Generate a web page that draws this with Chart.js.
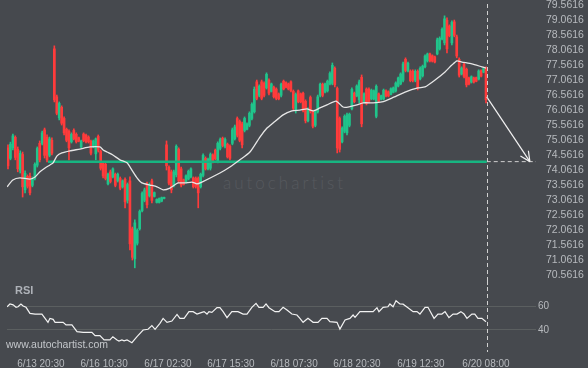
<!doctype html>
<html lang="en">
<head>
<meta charset="utf-8">
<title>Price chart</title>
<script src="https://cdn.jsdelivr.net/npm/chart.js"></script>
<style>
  html, body { margin: 0; padding: 0; background: #46494e; }
  #wrap { position: relative; width: 588px; height: 368px; overflow: hidden; }
  canvas { position: absolute; left: 0; }
  #main { top: 0; }
  #rsi { top: 280px; }
  .txt { position: absolute; font-family: "Liberation Sans", Arial, sans-serif; white-space: nowrap; }
  #mark { left: 223px; top: 172px; font-family: Lato, sans-serif; font-weight: 300; font-size: 17px; letter-spacing: 3px; color: #56595e; }
  #rsiTitle { left: 15px; top: 284px; font-size: 11px; font-weight: bold; color: #aeb2b8; }
  #site { left: 6px; top: 338px; font-size: 10.5px; color: #c3c6ca; }
</style>
</head>
<body>
<div id="wrap">
  <div class="txt" id="mark">autochartist</div>
  <canvas id="main" width="588" height="285"></canvas>
  <canvas id="rsi" width="588" height="88"></canvas>
  <div class="txt" id="rsiTitle">RSI</div>
  <div class="txt" id="site">www.autochartist.com</div>
</div>
<script>
// candles, one per bar, oldest first
const open = [
  74.80, 74.45, 74.80, 75.15, 74.75, 74.05, 74.58, 73.40, 73.85, 73.85,
  73.55, 73.78, 74.22, 74.95, 74.95, 75.40, 75.15, 74.55, 75.05, 78.10,
  76.50, 75.80, 76.15, 75.78, 75.42, 75.35, 75.00, 75.38, 75.25, 75.14,
  74.83, 75.26, 75.22, 75.16, 75.02, 74.83, 74.60, 75.18, 74.68, 74.28,
  74.25, 73.60, 74.00, 73.83, 73.92, 73.70, 73.78, 73.50, 73.75, 73.05,
  73.70, 72.10, 71.10, 71.62, 72.10, 72.70, 73.05, 73.60, 73.20, 73.70,
  73.18, 72.98, 72.98, 73.02, 73.11, 74.90, 74.15, 74.00, 73.55, 73.90,
  74.75, 74.10, 73.74, 73.65, 73.76, 73.83, 73.80, 73.78, 73.78, 73.50,
  73.88, 74.45, 74.10, 74.12, 74.56, 74.72, 74.36, 74.78, 75.12, 74.85,
  74.92, 74.85, 74.95, 75.10, 75.78, 75.68, 75.60, 75.38, 75.42, 75.55,
  75.78, 76.00, 77.00, 76.55, 77.00, 76.95, 76.80, 77.05, 76.68, 76.82,
  76.76, 76.60, 76.55, 77.02, 76.97, 76.93, 77.00, 76.68, 76.05, 76.70,
  76.60, 76.62, 76.35, 75.70, 76.48, 76.02, 75.55, 76.00, 76.55, 76.92,
  76.66, 76.70, 76.93, 76.95, 77.45, 76.78, 75.78, 75.00, 75.35, 75.30,
  75.55, 76.10, 76.62, 76.53, 76.40, 77.15, 76.33, 76.76, 76.75, 76.43,
  76.43, 75.85, 76.60, 76.42, 76.43, 76.70, 76.67, 76.58, 76.65, 76.70,
  76.86, 76.93, 77.05, 77.75, 77.36, 77.36, 77.35, 77.05, 77.35, 77.10,
  77.20, 77.50, 77.70, 77.93, 77.87, 77.83, 77.93, 78.10, 78.43, 78.30,
  79.05, 78.86, 78.30, 79.00, 78.50, 77.75, 77.26, 77.58, 77.42, 77.13,
  76.99, 77.13, 77.14, 77.09, 77.37, 77.32, 77.45
];
const high = [
  74.90, 74.99, 75.26, 75.20, 74.83, 74.70, 74.66, 74.03, 73.90, 73.96,
  73.83, 74.30, 74.83, 75.03, 75.36, 75.46, 75.23, 75.16, 75.13, 78.20,
  76.56, 76.33, 76.20, 75.83, 75.46, 75.40, 75.30, 75.43, 75.30, 75.16,
  75.06, 75.30, 75.26, 75.20, 75.06, 75.06, 75.13, 75.23, 74.73, 74.33,
  74.30, 73.96, 74.06, 74.13, 73.96, 73.96, 73.83, 73.73, 73.80, 73.63,
  73.83, 72.16, 72.40, 72.10, 72.73, 73.33, 73.46, 73.66, 73.63, 73.76,
  73.33, 73.10, 73.13, 73.16, 73.16, 75.03, 74.20, 74.06, 74.06, 74.90,
  74.80, 74.16, 73.76, 73.90, 74.06, 74.13, 73.83, 73.83, 73.83, 73.96,
  74.60, 74.50, 74.46, 74.63, 74.60, 74.76, 75.00, 75.13, 75.16, 75.13,
  74.96, 74.90, 75.46, 75.56, 75.83, 75.73, 75.66, 75.83, 75.63, 76.00,
  76.30, 76.83, 77.06, 76.90, 77.06, 77.00, 77.30, 77.10, 76.96, 76.86,
  76.80, 76.63, 76.96, 77.06, 77.00, 76.96, 77.03, 76.73, 76.63, 76.73,
  76.63, 76.66, 76.40, 76.13, 76.53, 76.06, 76.06, 76.56, 76.96, 76.96,
  76.96, 77.06, 77.33, 77.63, 77.50, 76.83, 75.83, 75.50, 75.90, 75.96,
  75.96, 76.80, 76.66, 76.90, 77.06, 77.23, 76.63, 76.80, 76.80, 76.76,
  76.73, 76.90, 76.63, 76.56, 76.76, 76.73, 76.70, 76.80, 76.83, 77.00,
  77.16, 77.30, 77.66, 77.80, 77.66, 77.40, 77.40, 77.40, 77.40, 77.50,
  77.56, 77.90, 77.96, 77.96, 77.90, 77.86, 78.46, 78.50, 78.80, 79.20,
  79.13, 78.90, 79.03, 79.06, 78.56, 77.80, 77.50, 77.63, 77.46, 77.16,
  77.20, 77.16, 77.16, 77.40, 77.40, 77.46, 77.50
];
const low = [
  74.10, 74.40, 74.73, 74.40, 74.00, 73.96, 73.16, 73.30, 73.46, 73.23,
  73.50, 73.73, 74.16, 74.33, 74.90, 74.46, 74.33, 74.50, 74.56, 76.33,
  75.90, 75.73, 75.56, 75.23, 75.00, 74.40, 74.96, 75.06, 74.96, 75.00,
  74.80, 75.00, 74.96, 74.96, 74.56, 74.80, 74.40, 74.66, 74.06, 73.80,
  73.73, 73.56, 73.63, 73.80, 73.50, 73.66, 73.40, 73.46, 72.80, 72.96,
  71.40, 71.06, 70.80, 71.56, 72.06, 72.66, 73.00, 72.80, 73.16, 72.96,
  73.16, 72.96, 72.96, 73.00, 73.10, 74.06, 73.56, 73.30, 73.50, 73.83,
  73.63, 73.50, 73.56, 73.63, 73.73, 73.80, 73.46, 73.46, 72.80, 73.46,
  73.83, 74.06, 74.06, 74.06, 74.30, 74.40, 74.30, 74.73, 74.83, 74.80,
  74.46, 74.40, 74.90, 75.06, 75.16, 75.00, 74.80, 75.33, 75.40, 75.50,
  75.73, 75.96, 76.40, 76.50, 76.40, 76.50, 76.76, 76.56, 76.66, 76.46,
  76.40, 76.40, 76.50, 76.73, 76.80, 76.73, 76.66, 76.06, 75.96, 76.30,
  76.30, 76.00, 75.63, 75.66, 75.96, 75.46, 75.50, 75.96, 76.50, 76.50,
  76.63, 76.66, 76.90, 76.90, 76.83, 74.63, 74.66, 74.96, 75.30, 75.23,
  75.50, 76.06, 76.30, 76.50, 76.30, 75.50, 76.30, 76.23, 76.30, 76.40,
  76.40, 75.80, 76.33, 76.40, 76.40, 76.50, 76.50, 76.56, 76.63, 76.66,
  76.83, 76.90, 77.00, 77.33, 77.33, 77.00, 77.00, 77.00, 76.73, 77.06,
  77.16, 77.46, 77.66, 77.66, 77.66, 77.63, 77.90, 78.06, 78.40, 78.23,
  77.96, 78.50, 78.23, 78.50, 77.80, 77.16, 77.23, 77.13, 76.83, 76.90,
  76.96, 76.96, 77.00, 77.06, 77.16, 77.30, 76.30
];
const close = [
  74.20, 74.92, 75.20, 74.48, 74.10, 74.62, 73.50, 73.95, 73.52, 73.30,
  73.78, 74.25, 74.78, 74.40, 75.30, 74.55, 74.40, 75.10, 74.62, 76.40,
  75.95, 76.28, 75.62, 75.30, 75.05, 74.80, 75.25, 75.10, 75.00, 75.02,
  75.03, 75.04, 75.00, 75.00, 74.62, 75.03, 75.10, 74.72, 74.12, 73.86,
  73.78, 73.92, 73.68, 74.10, 73.55, 73.92, 73.45, 73.70, 73.00, 73.58,
  71.60, 71.15, 72.30, 72.05, 72.68, 73.28, 73.40, 72.90, 73.58, 73.05,
  73.31, 73.08, 73.11, 73.14, 73.15, 74.20, 73.62, 73.40, 74.00, 74.85,
  73.70, 73.56, 73.58, 73.87, 74.02, 74.10, 73.50, 73.52, 73.30, 73.92,
  74.55, 74.10, 74.42, 74.58, 74.34, 74.44, 74.95, 75.08, 74.88, 75.08,
  74.50, 74.45, 75.40, 75.50, 75.22, 75.05, 74.90, 75.78, 75.60, 75.95,
  76.25, 76.75, 76.45, 76.85, 76.45, 76.55, 77.25, 76.62, 76.93, 76.50,
  76.45, 76.43, 76.92, 76.76, 76.82, 76.76, 76.70, 76.12, 76.58, 76.34,
  76.33, 76.05, 75.70, 76.08, 76.02, 75.52, 76.00, 76.50, 76.92, 76.55,
  76.93, 77.02, 77.28, 77.55, 76.90, 74.80, 74.75, 75.45, 75.85, 75.90,
  75.92, 76.75, 76.34, 76.86, 77.00, 75.60, 76.60, 76.28, 76.35, 76.72,
  76.70, 76.85, 76.36, 76.54, 76.72, 76.53, 76.53, 76.77, 76.80, 76.96,
  77.13, 77.26, 77.60, 77.38, 77.62, 77.04, 77.05, 77.35, 76.80, 77.45,
  77.52, 77.86, 77.93, 77.70, 77.69, 77.66, 78.40, 78.45, 78.75, 79.10,
  78.10, 78.54, 78.98, 78.55, 77.86, 77.22, 77.46, 77.18, 76.90, 76.93,
  77.17, 76.99, 77.02, 77.36, 77.19, 77.44, 76.40
];

// moving average (bar index, price)
const maIdx = [-0.4, 2.0, 4.9, 9.0, 11.1, 13.1, 15.2, 17.2, 18.5, 20.1, 22.1, 25.4, 29.5, 33.6, 37.7, 39.0, 40.6, 43.0, 45.9, 48.8,
  50.8, 52.9, 54.9, 58.2, 61.1, 63.6, 66.4, 69.7, 72.6, 75.4, 77.5, 79.5, 86.9, 91.0, 95.1, 99.2, 103.3, 106.2, 108.7, 112.8,
  116.4, 119.7, 122.6, 125.1, 127.9, 130.8, 134.5, 137.4, 139.4, 143.1, 145.6, 149.7, 153.3, 157.4, 162.8, 168.1, 171.0, 175.1, 179.2, 182.0,
  184.1, 186.1, 190.2, 194.3, 196.0];
const maVal = [73.50, 73.73, 73.80, 73.76, 73.83, 74.00, 74.13, 74.23, 74.30, 74.53, 74.63, 74.70, 74.76, 74.83, 74.83, 74.73, 74.66, 74.56, 74.40, 74.30,
  74.06, 73.80, 73.63, 73.56, 73.50, 73.40, 73.46, 73.63, 73.63, 73.66, 73.60, 73.66, 73.96, 74.16, 74.40, 74.66, 75.16, 75.46, 75.63, 75.90,
  76.03, 76.06, 76.10, 76.03, 76.13, 76.23, 76.36, 76.16, 76.16, 76.23, 76.30, 76.30, 76.33, 76.46, 76.66, 76.80, 76.83, 77.06, 77.33, 77.56,
  77.70, 77.66, 77.60, 77.50, 77.46];

// RSI (bar index, value)
const rsiIdx = [-0.4, 0.8, 2.1, 3.3, 4.1, 5.3, 6.2, 7.4, 9.0, 11.1, 13.9, 15.2, 16.4, 17.2, 18.5, 19.3, 22.6, 23.8, 26.2, 28.3,
  30.8, 34.4, 35.7, 37.7, 39.4, 41.8, 43.0, 44.7, 45.5, 46.7, 47.6, 48.8, 49.6, 50.8, 52.9, 55.4, 57.4, 59.0, 60.3, 62.3,
  63.6, 65.2, 67.2, 69.3, 70.5, 72.2, 74.2, 75.9, 77.5, 79.5, 80.4, 81.6, 82.4, 83.6, 85.7, 86.9, 88.2, 89.8, 91.8, 94.3,
  96.4, 98.0, 100.0, 101.7, 102.9, 104.6, 105.8, 107.0, 109.5, 111.1, 112.8, 114.4, 116.4, 118.5, 119.7, 121.0, 123.0, 125.1, 127.1, 128.7,
  130.8, 132.0, 134.9, 136.1, 138.2, 140.2, 141.5, 142.3, 144.3, 149.7, 151.3, 152.1, 153.8, 155.8, 156.6, 157.9, 159.1, 160.7, 162.0, 164.0,
  166.1, 167.7, 168.9, 171.0, 172.2, 174.7, 176.3, 177.9, 179.2, 180.8, 182.5, 184.1, 185.7, 187.0, 188.2, 190.2, 191.4, 192.7, 194.3, 196.0];
const rsiVal = [59.4, 61.7, 61.0, 58.9, 59.4, 61.7, 60.0, 58.9, 53.9, 53.3, 53.3, 49.7, 46.4, 49.7, 48.9, 46.4, 46.4, 44.2, 44.2, 38.6,
  38.0, 38.0, 35.3, 35.3, 31.7, 31.7, 34.4, 31.7, 30.8, 31.7, 31.0, 31.7, 30.8, 29.4, 34.4, 40.0, 40.6, 43.6, 40.6, 45.6,
  49.7, 46.4, 47.5, 53.0, 49.7, 49.7, 55.3, 55.3, 53.3, 54.7, 55.3, 53.3, 55.3, 54.7, 58.6, 58.6, 55.3, 50.3, 55.3, 55.3,
  53.3, 53.3, 58.9, 62.2, 58.9, 58.9, 61.7, 58.6, 55.3, 55.3, 58.9, 56.7, 53.3, 52.5, 49.7, 46.4, 49.7, 46.4, 46.4, 49.7,
  49.7, 46.9, 46.4, 40.8, 48.3, 49.7, 52.5, 50.5, 55.3, 55.3, 58.6, 55.3, 58.9, 59.4, 61.7, 59.4, 64.4, 61.7, 61.5, 58.6,
  55.3, 55.3, 53.3, 58.9, 58.9, 49.7, 53.3, 53.3, 55.3, 50.3, 53.3, 53.3, 55.3, 53.3, 49.7, 53.3, 53.3, 49.7, 49.7, 46.9];

const priceTicks = [79.5616, 79.0616, 78.5616, 78.0616, 77.5616, 77.0616, 76.5616, 76.0616, 75.5616, 75.0616,
  74.5616, 74.0616, 73.5616, 73.0616, 72.5616, 72.0616, 71.5616, 71.0616, 70.5616];
const rsiTicks = [60, 40];
const timeLabels = ['6/13 20:30', '6/16 10:30', '6/17 02:30', '6/17 15:30', '6/18 07:30', '6/18 20:30', '6/19 12:30', '6/20 08:00'];
const timeIdx = [13.5, 39.4, 65.6, 91.4, 117.3, 143.1, 169.3, 196.0];

// support level and forecast
const levelPrice = 74.34;
const levelFrom = 16.4;
const nowIdx = 196.3;
const arrowFrom = 76.50;
const arrowToIdx = 214.0;

const xMin = -0.41, xMax = 216.5;
const up = '#20c48b', down = '#ff3b3b';
const font = '"Liberation Sans", Arial, sans-serif';
const labelColor = '#b7babe';

const dirColor = open.map((o, i) => close[i] >= o ? up : down);

const fitRight = s => { s.width = 52; s.paddingTop = 0; s.paddingBottom = 0; };

// vertical "now" line and arrow head
const markers = {
  id: 'markers',
  afterDatasetsDraw(chart, args, opts) {
    const { ctx, scales } = chart;
    const x = Math.round(scales.x.getPixelForValue(nowIdx)) + 0.5;
    ctx.save();
    ctx.strokeStyle = '#d0d0d0';
    ctx.lineWidth = 1;
    ctx.setLineDash([4, 3]);
    ctx.beginPath();
    ctx.moveTo(x, opts.top);
    ctx.lineTo(x, opts.bottom);
    ctx.stroke();
    if (opts.arrow) {
      const meta = chart.getDatasetMeta(opts.arrow);
      const a = meta.data[0], b = meta.data[1];
      const ang = Math.atan2(b.y - a.y, b.x - a.x);
      ctx.setLineDash([]);
      ctx.strokeStyle = '#f2f2f2';
      ctx.lineWidth = 1.2;
      ctx.beginPath();
      for (const d of [-0.45, 0.45]) {
        ctx.moveTo(b.x, b.y);
        ctx.lineTo(b.x - 11 * Math.cos(ang + d), b.y - 11 * Math.sin(ang + d));
      }
      ctx.stroke();
    }
    ctx.restore();
  }
};

new Chart(document.getElementById('main'), {
  type: 'bar',
  data: {
    datasets: [
      {
        type: 'line', label: 'ma', order: 1,
        data: maIdx.map((x, i) => ({ x: x, y: maVal[i] })),
        borderColor: '#e6e6e6', borderWidth: 1.3, pointRadius: 0, tension: 0.2
      },
      {
        type: 'line', label: 'level', order: 2,
        data: [{ x: levelFrom, y: levelPrice }, { x: nowIdx, y: levelPrice }],
        borderColor: '#17b581', borderWidth: 2.5, pointRadius: 0
      },
      {
        type: 'line', label: 'target', order: 2,
        data: [{ x: nowIdx, y: levelPrice }, { x: xMax, y: levelPrice }],
        borderColor: '#cfcfcf', borderWidth: 1, borderDash: [4, 3], pointRadius: 0
      },
      {
        type: 'line', label: 'arrow', order: 2,
        data: [{ x: nowIdx, y: arrowFrom }, { x: arrowToIdx, y: levelPrice }],
        borderColor: '#f2f2f2', borderWidth: 1.2, pointRadius: 0
      },
      {
        label: 'body', order: 5, grouped: false,
        data: open.map((o, i) => ({ x: i, y: [o, close[i]] })),
        backgroundColor: dirColor, borderWidth: 0, barThickness: 2
      },
      {
        label: 'wick', order: 6, grouped: false,
        data: high.map((h, i) => ({ x: i, y: [low[i], h] })),
        backgroundColor: dirColor, borderWidth: 0, barThickness: 1
      }
    ]
  },
  options: {
    responsive: false,
    animation: false,
    devicePixelRatio: 1,
    layout: { padding: { left: 7, right: 0, top: 0, bottom: 0 } },
    plugins: {
      legend: { display: false },
      tooltip: { enabled: false },
      markers: { top: 4, bottom: 285, arrow: 3 }
    },
    scales: {
      x: { type: 'linear', min: xMin, max: xMax, offset: false, display: false },
      y: {
        type: 'linear', position: 'right', min: 70.228, max: 79.728,
        grid: { display: false }, border: { display: false },
        afterBuildTicks: s => { s.ticks = priceTicks.map(v => ({ value: v })); },
        afterFit: fitRight,
        ticks: {
          color: labelColor, padding: 2, autoSkip: false,
          font: { family: font, size: 10.5 }, callback: v => v.toFixed(4)
        }
      }
    }
  },
  plugins: [markers]
});

new Chart(document.getElementById('rsi'), {
  type: 'line',
  data: {
    datasets: [{
      label: 'RSI',
      data: rsiIdx.map((x, i) => ({ x: x, y: rsiVal[i] })),
      borderColor: '#f2f2f2', borderWidth: 1.2, pointRadius: 0
    }]
  },
  options: {
    responsive: false,
    animation: false,
    devicePixelRatio: 1,
    layout: { padding: { left: 7, right: 0, top: 0, bottom: 0 } },
    plugins: {
      legend: { display: false },
      tooltip: { enabled: false },
      markers: { top: 0, bottom: 72, arrow: null }
    },
    scales: {
      x: {
        type: 'linear', min: xMin, max: xMax, offset: false,
        grid: { display: false }, border: { display: false },
        afterBuildTicks: s => { s.ticks = timeIdx.map(v => ({ value: v })); },
        afterFit: s => { s.height = 21; s.paddingLeft = 0; s.paddingRight = 0; },
        ticks: {
          color: labelColor, padding: 3, autoSkip: false, maxRotation: 0,
          font: { family: font, size: 10 },
          callback: (v, i) => timeLabels[i]
        }
      },
      y: {
        type: 'linear', position: 'right', min: 25.83, max: 81.67,
        grid: { color: '#5b5f60', lineWidth: 1, drawTicks: false }, border: { display: false },
        afterBuildTicks: s => { s.ticks = rsiTicks.map(v => ({ value: v })); },
        afterFit: fitRight,
        ticks: { color: labelColor, padding: 2, autoSkip: false, font: { family: font, size: 10 } }
      }
    }
  },
  plugins: [markers]
});
</script>
</body>
</html>
